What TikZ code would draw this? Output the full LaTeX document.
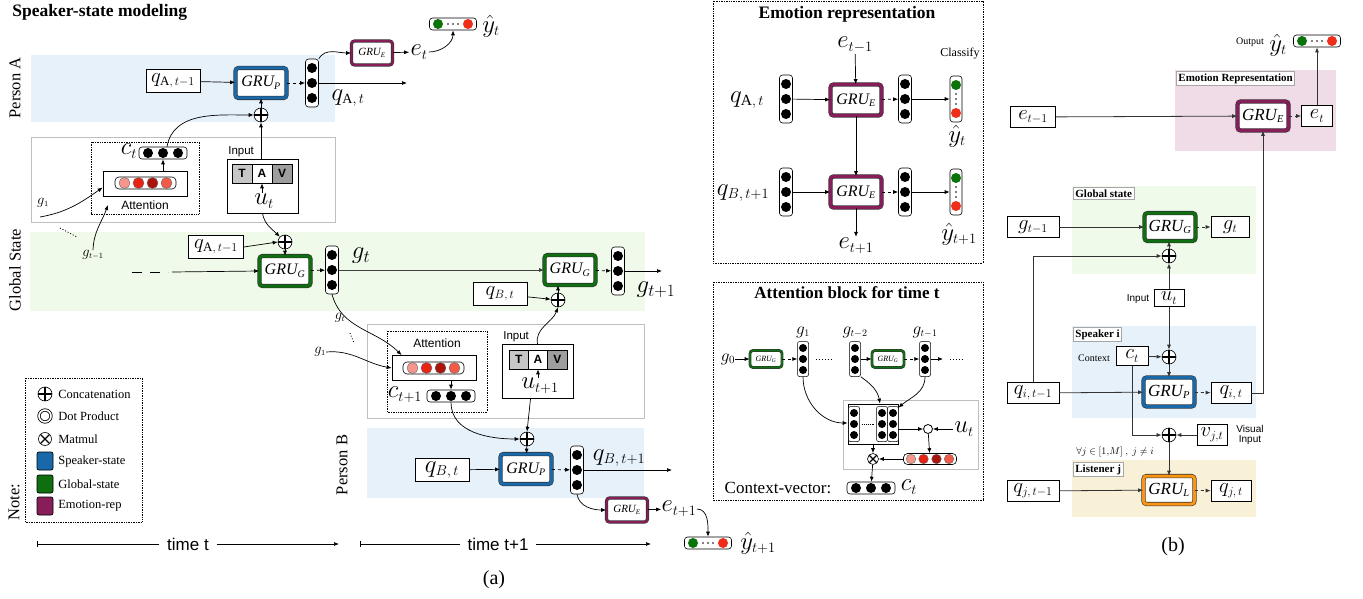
\documentclass[tikz,border=0pt]{standalone}
\usepackage{fontspec}
\setmainfont{Liberation Serif}
\setsansfont{Liberation Sans}
\usetikzlibrary{positioning,arrows.meta,calc}

\definecolor{spkblue}{RGB}{25,105,170}
\definecolor{glbgreen}{RGB}{15,110,15}
\definecolor{emopurple}{RGB}{135,30,90}
\definecolor{lisorange}{RGB}{250,150,20}
\definecolor{bandblue}{RGB}{231,241,250}
\definecolor{bandgreen}{RGB}{239,250,234}
\definecolor{bandpink}{RGB}{239,220,230}
\definecolor{bandyellow}{RGB}{248,241,216}
\definecolor{attA}{RGB}{245,150,140}
\definecolor{attB}{RGB}{232,35,20}
\definecolor{attC}{RGB}{170,20,10}
\definecolor{attD}{RGB}{242,90,70}
\definecolor{clsgreen}{RGB}{10,115,10}
\definecolor{clsred}{RGB}{240,45,25}

% small subscripts, as in the drawing
\DeclareMathSizes{8}{8}{5.5}{4.5}
\DeclareMathSizes{10}{10}{6.5}{5}
\DeclareMathSizes{11}{11}{7}{5.5}
\DeclareMathSizes{13}{13}{8}{6}
\DeclareMathSizes{14}{14}{8.5}{6.5}
\DeclareMathSizes{15}{15}{9.5}{7}
\DeclareMathSizes{16}{16}{10}{7.5}
\DeclareMathSizes{17}{17}{10.5}{8}
\DeclareMathSizes{20}{20}{12}{9}
\DeclareMathSizes{22}{22}{13}{10}
\DeclareMathSizes{23}{23}{14}{10.5}
\DeclareMathSizes{24}{24}{14.5}{11}
\DeclareMathSizes{25}{25}{15}{11}
\DeclareMathSizes{26}{26}{15.5}{12}
\DeclareMathSizes{28}{28}{17}{13}

\newcommand{\fsz}[1]{\fontsize{#1}{#1}\selectfont}
\newcommand{\gru}[1]{$\mathit{GRU}_{\mathit{#1}}$}

% vector macros: name, position
\newcommand{\stvec}[2]{\node[stvecbox] (#1) at (#2) {};
  \foreach \k in {-15,0,15}{\fill ([yshift=\k pt]#1.center) circle (5pt);}}
\newcommand{\hstvec}[2]{\node[hvecbox] (#1) at (#2) {};
  \foreach \k in {-15,0,15}{\fill ([xshift=\k pt]#1.center) circle (5pt);}}
\newcommand{\smvec}[2]{\node[smvecbox] (#1) at (#2) {};
  \foreach \k in {-11,0,11}{\fill ([yshift=\k pt]#1.center) circle (4pt);}}
\newcommand{\attvec}[2]{\node[attvecbox] (#1) at (#2) {};
  \foreach \k/\c in {-21/attA,-7/attB,7/attC,21/attD}{\filldraw[fill=\c, draw=black!60, line width=0.4pt] ([xshift=\k pt]#1.center) circle (5.5pt);}}
\newcommand{\attvecs}[2]{\node[attvecbox, minimum width=53pt, minimum height=11pt] (#1) at (#2) {};
  \foreach \k/\c in {-19/attA,-6.5/attB,6.5/attC,19/attD}{\filldraw[fill=\c, draw=black!60, line width=0.4pt] ([xshift=\k pt]#1.center) circle (4.8pt);}}
\newcommand{\clsvec}[2]{\node[clsbox] (#1) at (#2) {};
  \fill[clsgreen] ([xshift=-15pt]#1.center) circle (5pt);
  \fill[clsred] ([xshift=15pt]#1.center) circle (5pt);
  \foreach \k in {-5,0,5}{\fill ([xshift=\k pt]#1.center) circle (0.8pt);}}
\newcommand{\clsvvec}[2]{\node[clsvbox] (#1) at (#2) {};
  \fill[clsgreen] ([yshift=14pt]#1.center) circle (5pt);
  \fill[clsred] ([yshift=-14pt]#1.center) circle (5pt);
  \foreach \k in {-5,0,5}{\fill ([yshift=\k pt]#1.center) circle (0.8pt);}}

\begin{document}
\begin{tikzpicture}[x=1pt, y=-1pt, line width=0.7pt, >={Latex[length=5pt,width=4pt]},
    stvecbox/.style={draw, fill=white, rounded corners=3pt, line width=0.6pt, minimum width=13pt, minimum height=48pt, inner sep=0pt},
    hvecbox/.style={draw, fill=white, rounded corners=3pt, line width=0.6pt, minimum width=48pt, minimum height=12pt, inner sep=0pt},
    smvecbox/.style={draw, fill=white, rounded corners=2pt, line width=0.5pt, minimum width=11pt, minimum height=35pt, inner sep=0pt},
    attvecbox/.style={draw, fill=white, rounded corners=4pt, line width=0.6pt, minimum width=61pt, minimum height=12pt, inner sep=0pt},
    clsbox/.style={draw, fill=white, rounded corners=3pt, line width=0.6pt, minimum width=47pt, minimum height=12pt, inner sep=0pt},
    clsvbox/.style={draw, fill=white, rounded corners=3pt, line width=0.6pt, minimum width=12pt, minimum height=46pt, inner sep=0pt},
    grubox/.style={rectangle, rounded corners=3pt, fill=white, draw=black!80, line width=0.6pt, double distance=3pt, minimum width=51pt, minimum height=30pt, inner sep=0pt, font=\fsz{16}},
    gruP/.style={grubox, double=spkblue},
    gruG/.style={grubox, double=glbgreen},
    gruE/.style={grubox, double=emopurple},
    gruL/.style={grubox, double=lisorange},
    gruSm/.style={double distance=2pt, minimum width=41pt, minimum height=24pt, font=\fsz{11}},
    gruTiny/.style={double distance=1.6pt, minimum width=32pt, minimum height=17pt, font=\fsz{8}},
    qbox/.style={draw, fill=white, line width=0.7pt, inner sep=1pt, minimum height=23pt, font=\fsz{22}},
    bbox/.style={draw, fill=white, line width=0.7pt, inner sep=1pt, minimum height=21pt, font=\fsz{20}},
    catnode/.style={circle, draw, fill=white, line width=0.6pt, minimum size=14pt, inner sep=0pt,
      path picture={\draw[line width=1.4pt] (path picture bounding box.north) -- (path picture bounding box.south) (path picture bounding box.west) -- (path picture bounding box.east);}},
    mulnode/.style={circle, draw, fill=white, line width=0.6pt, minimum size=11pt, inner sep=0pt,
      path picture={\draw[line width=1.3pt] ([shift={(45:6pt)}]path picture bounding box.center) -- ([shift={(225:6pt)}]path picture bounding box.center) ([shift={(135:6pt)}]path picture bounding box.center) -- ([shift={(-45:6pt)}]path picture bounding box.center);}},
    dotnode/.style={circle, draw, fill=white, line width=0.8pt, minimum size=9pt, inner sep=0pt},
    attbox/.style={draw, fill=white, line width=0.7pt, minimum width=84pt, minimum height=25pt, inner sep=0pt},
    inbox/.style={draw, fill=white, line width=0.7pt, minimum width=71pt, minimum height=54pt, inner sep=0pt},
    tavcell/.style={draw, line width=0.6pt, minimum width=20pt, minimum height=19pt, inner sep=0pt, font=\sffamily\bfseries\fsz{12}},
    ttl/.style={font=\bfseries\fsz{17.5}, inner sep=0pt},
    sidelbl/.style={rotate=90, font=\fsz{16.5}, inner sep=0pt},
    lgtxt/.style={anchor=west, font=\fsz{12.5}, inner sep=0pt},
    tag/.style={draw=black!35, fill=white, line width=0.8pt, font=\bfseries\fsz{11}, inner sep=2pt, anchor=north west},
    sanslbl/.style={font=\sffamily\fsz{12}, inner sep=0pt},
    sm/.style={font=\fsz{14}, inner sep=0pt},
    big/.style={font=\fsz{23}, inner sep=1pt},
    timelbl/.style={fill=white, font=\sffamily\fsz{17}, inner xsep=8pt, inner ysep=0pt}
  ]
\useasboundingbox (0,0) rectangle (1363,599);

% ---------------- backgrounds
\fill[bandblue] (31,55) rectangle (335,122);
\fill[bandgreen] (30,232) rectangle (645,311);
\fill[bandblue] (367,428) rectangle (644,498);
\draw[black!25, fill=white] (31,137) rectangle (335,222);
\draw[black!25, fill=white] (367,324) rectangle (644,418);
\draw[densely dotted] (91,142) rectangle (199,214);
\draw[densely dotted] (387,331) rectangle (487,412);
\draw[densely dotted] (25,378) rectangle (142,522);
\draw[densely dotted] (713,1) rectangle (983,263);
\draw[densely dotted] (713,282) rectangle (983,500);
\draw[black!25, fill=white] (843,400) rectangle (978,469);
\fill[bandpink] (1175,70) rectangle (1336,151);
\fill[bandgreen] (1072,186) rectangle (1256,274);
\fill[bandblue] (1072,326) rectangle (1256,418);
\fill[bandyellow] (1072,460) rectangle (1256,517);

% ---------------- (a) speaker-state modeling
\node[ttl, anchor=west] (sstitle) at (12,12) {Speaker-state modeling};
\node[sidelbl] (perA) at (15,88) {Person A};
\node[sidelbl] (glbA) at (15,270) {Global State};
\node[sidelbl] (perB) at (342,465) {Person B};
\node[sidelbl] (noteA) at (14,502) {Note:};

% person A
\node[qbox, minimum width=54pt] (qA1) at (173,81) {$q_{\mathrm{A},\,t-1}$};
\node[gruP] (gruPA) at (261,83) {\gru{P}};
\stvec{qAt}{312,83}
\node[big] (qAtlbl) at (348,98) {$q_{\mathrm{A},\,t}$};
\node[gruE, gruSm] (gruEA) at (372,53) {\gru{E}};
\node[big] (etA) at (419,52) {$e_t$};
\clsvec{yA}{453,24}
\node[big] (yAlbl) at (491,26) {$\hat{y}_t$};
\node[catnode] (catA) at (261,115) {};
\coordinate (qAout) at (407,83);
\draw[->] (qA1) -- (gruPA);
\draw[->, dashed] (gruPA) -- (qAt);
\draw[->] (qAt) -- (qAout);
\draw[->] (qAt.north east) to[out=60, in=180] (gruEA.west);
\draw[->] (gruEA) -- (etA);
\draw[->] (etA.east) to[out=0, in=-90] (yA.south);
\draw[->] (catA) -- (gruPA);

% attention + input, time t
\node[attbox] (attInA) at (145,183.5) {};
\attvec{attA}{145.5,183}
\node[sanslbl] (attlblA) at (145,205) {Attention};
\hstvec{cA}{163,153}
\node[font=\fsz{25}, inner sep=0pt] (cAlbl) at (129,151) {$c_t$};
\draw[->] (attInA.north -| cA.south) -- (cA.south);
\node[inbox] (inA) at (262.5,186) {};
\node[sanslbl, anchor=west, font=\sffamily\fsz{11.5}] (inlblA) at (228,152) {Input};
\node[tavcell, fill=black!22] (tA1) at (242,173.5) {T};
\node[tavcell, fill=white] (tA2) at (262,173.5) {A};
\node[tavcell, fill=black!38] (tA3) at (282,173.5) {V};
\node[font=\fsz{23}, inner sep=0pt] (utA) at (264,201) {$u_t$};
\draw[->] (utA.north -| tA2.south) -- (tA2.south);
\draw[->] (inA.north -| catA.south) -- (catA.south);
\draw[->] ([xshift=4pt]cA.north) to[out=80, in=180] (catA.west);
\node[sm] (g1A) at (43,203) {$g_1$};
\coordinate (g1As) at (40,217);
\draw[->] (g1As) to[out=10, in=215] ([yshift=-4pt]attInA.west);
\node[sm] (gtm1A) at (93,255) {$g_{t-1}$};
\coordinate (attAin) at (108,205);
\draw[->] (gtm1A.north) to[out=88, in=250] (attAin);
\coordinate (dA0) at (60,228);
\coordinate (dA1) at (77,237);
\draw[dotted, line width=0.9pt] (dA0) -- (dA1);

% global state
\node[qbox, minimum width=55pt] (qA2) at (216,247) {$q_{\mathrm{A},\,t-1}$};
\node[catnode] (catG) at (285,242) {};
\node[gruG] (gruGA) at (285,271) {\gru{G}};
\stvec{gt}{332,270}
\node[font=\fsz{28}, inner sep=0pt] (gtlbl) at (361,256) {$g_t$};
\node[gruG] (gruGB) at (570,270) {\gru{G}};
\stvec{gt1}{618,271}
\node[font=\fsz{28}, inner sep=0pt] (gt1lbl) at (656,290) {$g_{t+1}$};
\coordinate (gout) at (662,271);
\node[qbox, minimum width=54pt] (qB2) at (500,294) {$q_{B,\,t}$};
\node[catnode] (catG2) at (558,300) {};
\coordinate (gin0) at (132,272);
\coordinate (gin1) at (168,272);
\coordinate (gin2) at (172,272);
\draw[dash pattern=on 10pt off 8pt] (gin0) -- (gin1);
\draw[->] (gin2) -- (gruGA.west);
\draw[->] (inA.south) to[out=-80, in=135] (catG.north west);
\draw[->] (qA2.east) -- (catG.west);
\draw[->] (catG) -- (gruGA);
\draw[->, dashed] (gruGA) -- (gt);
\draw[->, black!75, line width=0.9pt] (gt) -- (gruGB);
\draw[->, dashed] (gruGB) -- (gt1);
\draw[->] (gt1) -- (gout);
\draw[->] (qB2) -- (catG2);
\draw[->] (catG2.north) -- (catG2.north |- gruGB.south);

% attention + input, time t+1
\node[attbox] (attInB) at (434,368) {};
\attvec{attB}{433.5,368}
\node[sanslbl] (attlblB) at (437,343) {Attention};
\hstvec{cB}{451,396}
\node[font=\fsz{24}, inner sep=0pt] (cBlbl) at (405,395) {$c_{t+1}$};
\draw[->] (attInB.south -| cB.north) -- (cB.north);
\node[inbox] (inB) at (537.5,371.5) {};
\node[sanslbl, anchor=west, font=\sffamily\fsz{11.5}] (inlblB) at (503,337) {Input};
\node[tavcell, fill=black!22, minimum width=19.3pt] (tB1) at (518.7,359.5) {T};
\node[tavcell, fill=white, minimum width=19.3pt] (tB2) at (538,359.5) {A};
\node[tavcell, fill=black!38, minimum width=19.3pt] (tB3) at (557.3,359.5) {V};
\node[font=\fsz{23}, inner sep=0pt] (utB) at (540,386) {$u_{t+1}$};
\draw[->] (utB.north -| tB2.south) -- (tB2.south);
\draw[->] (inB.north) to[out=100, in=-110] (catG2.south);
\draw[->] (gt.south) to[out=-75, in=135] ([xshift=10pt]attInB.north west);
\node[sm] (gtsm) at (340,318) {$g_t$};
\node[sm] (g1B) at (320,352) {$g_1$};
\draw[->] (g1B.east) to[out=5, in=170] (attInB.west);
\coordinate (dB0) at (350,333);
\coordinate (dB1) at (354,343);
\draw[dotted, line width=0.9pt] (dB0) -- (dB1);

% person B
\node[catnode] (catB) at (527,439) {};
\node[qbox, minimum width=54pt, font=\fsz{25}] (qB1) at (442,470) {$q_{B,\,t}$};
\node[gruP] (gruPB) at (526,469) {\gru{P}};
\stvec{qBt}{577,470}
\node[font=\fsz{23}, inner sep=0pt] (qBtlbl) at (619,458) {$q_{B,\,t+1}$};
\coordinate (qBout) at (672,470);
\node[gruE, gruSm] (gruEB) at (627,510) {\gru{E}};
\node[font=\fsz{23}, inner sep=0pt] (etB) at (679,509) {$e_{t+1}$};
\clsvec{yB}{708,543}
\node[big] (yBlbl) at (758,543) {$\hat{y}_{t+1}$};
\draw[->] (cB.south) to[out=-90, in=180] (catB.west);
\draw[->] ([xshift=-7pt]inB.south) -- (catB.north);
\draw[->] (catB) -- (gruPB);
\draw[->] (qB1) -- (gruPB);
\draw[->, dashed] (gruPB) -- (qBt);
\draw[->] (qBt) -- (qBout);
\draw[->] (qBt.south) to[out=-80, in=180] (gruEB.west);
\draw[->] (gruEB) -- (etB);
\draw[->] (etB.east) to[out=0, in=90] (yB.north);

% legend
\node[catnode] (lgcat) at (45,394) {};
\node[lgtxt] (lgcatt) at (58,394) {Concatenation};
\node[circle, draw, double, double distance=1.6pt, line width=0.8pt, minimum size=12pt, inner sep=0pt] (lgdot) at (45,416) {};
\node[lgtxt] (lgdott) at (58,416) {Dot Product};
\node[mulnode, minimum size=13pt] (lgmul) at (45,439) {};
\node[lgtxt] (lgmult) at (58,439) {Matmul};
\node[draw, rounded corners=2pt, fill=spkblue, minimum width=16pt, minimum height=18pt] (lgspk) at (45,461) {};
\node[lgtxt] (lgspkt) at (58,461) {Speaker-state};
\node[draw, rounded corners=2pt, fill=glbgreen, minimum width=16pt, minimum height=18pt] (lgglb) at (45,484) {};
\node[lgtxt] (lgglbt) at (58,484) {Global-state};
\node[draw, rounded corners=2pt, fill=emopurple, minimum width=16pt, minimum height=18pt] (lgemo) at (45,506) {};
\node[lgtxt] (lgemot) at (58,506) {Emotion-rep};

% time axis
\coordinate (tA0) at (37,544);
\coordinate (tA1) at (339,544);
\coordinate (tB0) at (360,544);
\coordinate (tB1) at (651,544);
\draw[|->] (tA0) -- (tA1);
\draw[|->] (tB0) -- (tB1);
\node[timelbl] (timet) at (188,544) {time t};
\node[timelbl] (timet1) at (498,544) {time t+1};
\node[font=\fsz{20}] (capa) at (494,580) {(a)};

% ---------------- emotion representation
\node[ttl] (emoTitle) at (847,14) {Emotion representation};
\node[big] (em1) at (855,45) {$e_{t-1}$};
\node[gruE, minimum width=51pt, minimum height=31pt] (gruE1) at (856,100) {\gru{E}};
\stvec{eqA}{786,99}
\node[font=\fsz{26}, inner sep=0pt] (eqAlbl) at (747,100) {$q_{\mathrm{A},\,t}$};
\stvec{eoA}{905,99}
\clsvvec{ecA}{956,99}
\node[font=\fsz{12}, inner sep=0pt] (classify) at (960,54) {Classify};
\node[big] (eyA) at (957,136) {$\hat{y}_t$};
\node[gruE, minimum width=51pt, minimum height=31pt] (gruE2) at (856,192) {\gru{E}};
\stvec{eqB}{786,192}
\node[font=\fsz{24}, inner sep=0pt] (eqBlbl) at (743,193) {$q_{B,\,t+1}$};
\stvec{eoB}{905,192}
\clsvvec{ecB}{956,192}
\node[big] (eyB) at (959,234) {$\hat{y}_{t+1}$};
\node[big] (ep1) at (856,246) {$e_{t+1}$};
\draw[->] (em1) -- (gruE1);
\draw[->] (eqA) -- (gruE1);
\draw[->, dashed] (gruE1) -- (eoA);
\draw[->] (eoA) -- (ecA);
\draw[->] (gruE1) -- (gruE2);
\draw[->] (eqB) -- (gruE2);
\draw[->, dashed] (gruE2) -- (eoB);
\draw[->] (eoB) -- (ecB);
\draw[->] (gruE2) -- (ep1);

% ---------------- attention block
\node[ttl, font=\bfseries\fsz{17}] (attTitle) at (847,293) {Attention block for time t};
\node[font=\fsz{17}, inner sep=0pt] (ag0) at (728,359) {$g_0$};
\node[gruG, gruTiny] (agru1) at (766,359) {\gru{G}};
\smvec{ag1}{803,359}
\node[sm, font=\fsz{16}] (ag1lbl) at (803,332) {$g_1$};
\coordinate (adots0) at (816,359);
\coordinate (adots1) at (833,359);
\draw[dotted, line width=0.9pt] (adots0) -- (adots1);
\smvec{agt2}{855,359}
\node[sm, font=\fsz{16}] (agt2lbl) at (855,332) {$g_{t-2}$};
\node[gruG, gruTiny] (agru2) at (888,359) {\gru{G}};
\smvec{agt1}{925,359}
\node[sm, font=\fsz{16}] (agt1lbl) at (925,332) {$g_{t-1}$};
\coordinate (aout) at (943,359);
\coordinate (adots2) at (950,359);
\coordinate (adots3) at (964,359);
\draw[dotted, line width=0.9pt] (adots2) -- (adots3);
\draw[->] (ag0) -- (agru1);
\draw[->, dashed] (agru1) -- (ag1);
\draw[->] (agt2) -- (agru2);
\draw[->, dashed] (agru2) -- (agt1);
\draw[->] (agt1) -- (aout);
\node[draw, fill=white, line width=0.7pt, minimum width=50pt, minimum height=40pt, inner sep=0pt] (amat) at (873,424) {};
\smvec{am1}{854,424}
\smvec{am2}{882,424}
\smvec{am3}{893,424}
\coordinate (amd0) at (862,424);
\coordinate (amd1) at (874,424);
\draw[densely dotted, line width=0.9pt] (amd0) -- (amd1);
\node[dotnode] (adot) at (928,429) {};
\node[big] (aut) at (964,429) {$u_t$};
\attvecs{aw}{930,459}
\node[mulnode] (amul) at (873,459) {};
\hstvec{act}{871,488}
\node[font=\fsz{17}, inner sep=0pt] (ctx) at (778,488) {Context-vector:};
\node[big] (actlbl) at (909,487) {$c_t$};
\draw[->] (ag1.south) to[out=-90, in=180] ([yshift=1pt]amat.west);
\draw[->] (agt2.south east) to[out=-35, in=100] ([xshift=7pt]amat.north);
\draw[->] (agt1.south) to[out=-90, in=40] ([yshift=-4pt]amat.north east);
\draw[->] (amat.east |- adot.west) -- (adot.west);
\draw[->] (aut) -- (adot);
\draw[->] (adot) -- (aw);
\draw[->] (aw) -- (amul);
\draw[->] (amat) -- (amul);
\draw[->] (amul) -- (act);

% ---------------- (b)
\node[tag] (tagEmo) at (1176,71) {Emotion Representation};
\node[tag] (tagGlb) at (1073,187) {Global state};
\node[tag] (tagSpk) at (1073,327) {Speaker i};
\node[tag] (tagLis) at (1073,462) {Listener j};
\node[bbox, minimum width=45pt] (bem1) at (1033,117) {$e_{t-1}$};
\node[gruE, minimum height=29pt, font=\fsz{17}] (bgruE) at (1263,116) {\gru{E}};
\node[bbox, minimum width=31pt] (bet) at (1317,116) {$e_t$};
\clsvec{by}{1317,41}
\node[font=\fsz{10}, inner sep=0pt] (bout) at (1250,42) {Output};
\node[big] (bylbl) at (1278,45) {$\hat{y}_t$};
\node[bbox, minimum width=52pt] (bgm1) at (1033,227) {$g_{t-1}$};
\node[gruG, minimum height=28pt, font=\fsz{17}] (bgruG) at (1170,227) {\gru{G}};
\node[bbox, minimum width=38pt] (bgt) at (1230,227) {$g_t$};
\node[catnode] (bcat1) at (1169,256) {};
\node[bbox, minimum width=30pt, minimum height=17pt, font=\fsz{20}] (but) at (1169,298) {$u_t$};
\node[sanslbl, font=\sffamily\fsz{10}] (binlbl) at (1138,299) {Input};
\node[font=\fsz{10}, inner sep=0pt] (bctxl) at (1094,358) {Context};
\node[bbox, minimum width=32pt, minimum height=19pt] (bct) at (1132,356) {$c_t$};
\node[catnode] (bcat2) at (1169,357) {};
\node[gruP, minimum height=29pt, font=\fsz{17}] (bgruP) at (1169,392) {\gru{P}};
\node[bbox, minimum width=52pt] (bqi1) at (1033,393) {$q_{i,\,t-1}$};
\node[bbox, minimum width=40pt] (bqi) at (1231,393) {$q_{i,\,t}$};
\node[catnode] (bcat3) at (1169,435) {};
\node[bbox, minimum width=30pt] (bvj) at (1212,435) {$v_{j,t}$};
\node[font=\sffamily\fsz{10}, align=center, inner sep=0pt] (bvis) at (1250,435) {Visual\\Input};
\node[font=\fsz{10}, inner sep=0pt] (bforall) at (1115,452) {$\forall j\in[1{,}M]\ ,\ j\neq i$};
\node[gruL, minimum height=28pt, font=\fsz{17}] (bgruL) at (1169,490) {\gru{L}};
\node[bbox, minimum width=52pt] (bqj1) at (1033,491) {$q_{j,\,t-1}$};
\node[bbox, minimum width=40pt] (bqj) at (1231,491) {$q_{j,\,t}$};
\node[font=\fsz{20}] (capb) at (1173,547) {(b)};
\begin{scope}[black!80, line width=0.8pt]
\draw[->] (bem1) -- (bgruE);
\draw[->, dashed] (bgruE) -- (bet);
\draw[->] (bet) -- (by);
\draw[->] (bgm1) -- (bgruG);
\draw[->, dashed] (bgruG) -- (bgt);
\draw[->] (bcat1) -- (bgruG.south -| bcat1);
\draw[->] (bqi1.north) |- (bcat1.west);
\draw[->] (but) -- (bcat1);
\draw[->] (but) -- (bcat2);
\draw[->] (bct) -- (bcat2);
\draw[->] (bcat2) -- (bgruP);
\draw[->] (bqi1) -- (bgruP);
\draw[->, dashed] (bgruP) -- (bqi);
\draw[->] (bqi.east) -| (bgruE.south);
\draw[->] (bct.south) |- (bcat3.west);
\draw[->] (bvj) -- (bcat3);
\draw[->] (bcat3) -- (bgruL);
\draw[->] (bqj1) -- (bgruL);
\draw[->, dashed] (bgruL) -- (bqj);
\end{scope}
\end{tikzpicture}
\end{document}
